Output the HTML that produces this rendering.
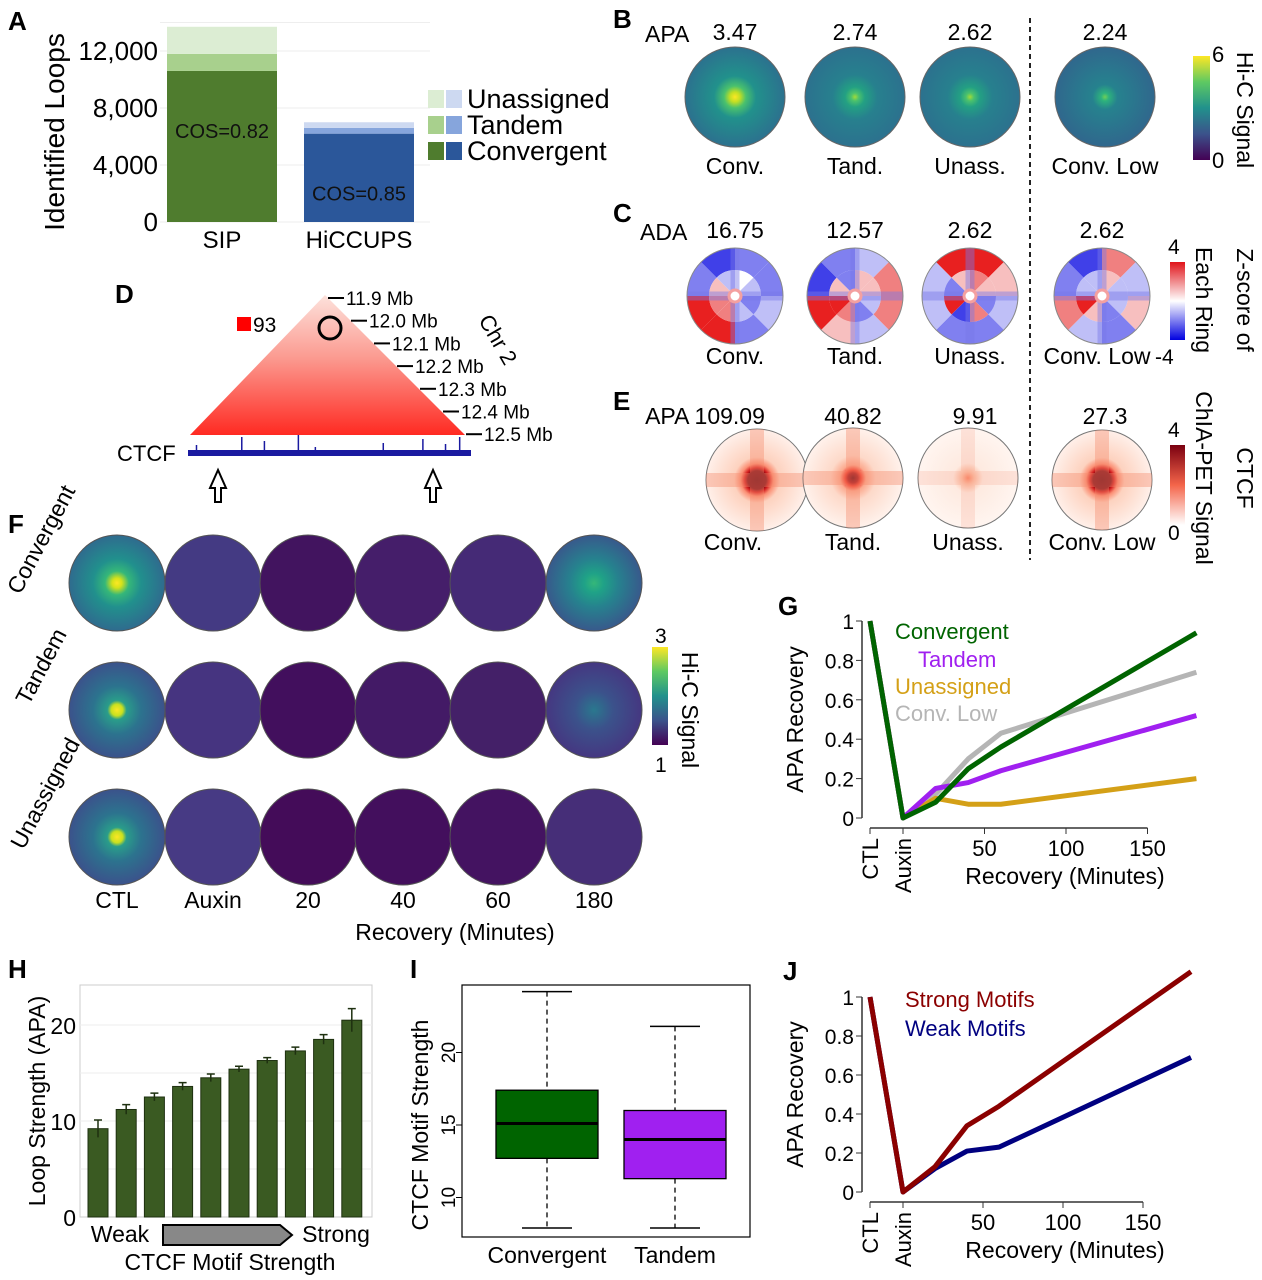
<!DOCTYPE html>
<html><head><meta charset="utf-8">
<style>
html,body{margin:0;padding:0;background:#fff;}
svg{display:block;font-family:"Liberation Sans",Arial,sans-serif;}
</style></head>
<body>
<svg id="fig" width="1262" height="1280" viewBox="0 0 1262 1280" xmlns="http://www.w3.org/2000/svg">
<defs>
 <radialGradient id="vConv"><stop offset="0" stop-color="#fde725"/><stop offset="0.1" stop-color="#c2df23"/><stop offset="0.22" stop-color="#4ac16d"/><stop offset="0.42" stop-color="#21918c"/><stop offset="1" stop-color="#2c718e"/></radialGradient>
 <radialGradient id="vTand"><stop offset="0" stop-color="#a0da39"/><stop offset="0.08" stop-color="#4ac16d"/><stop offset="0.2" stop-color="#23a083"/><stop offset="0.45" stop-color="#27808e"/><stop offset="1" stop-color="#2c718e"/></radialGradient>
 <radialGradient id="vLow"><stop offset="0" stop-color="#6ece58"/><stop offset="0.08" stop-color="#2db27d"/><stop offset="0.25" stop-color="#26828e"/><stop offset="1" stop-color="#30678d"/></radialGradient>
 <radialGradient id="fConv"><stop offset="0" stop-color="#fde725"/><stop offset="0.1" stop-color="#d5e21a"/><stop offset="0.25" stop-color="#35b779"/><stop offset="0.5" stop-color="#21908d"/><stop offset="1" stop-color="#2f6b8e"/></radialGradient>
 <radialGradient id="fTand"><stop offset="0" stop-color="#fde725"/><stop offset="0.12" stop-color="#c8e020"/><stop offset="0.2" stop-color="#2a9d8a"/><stop offset="0.5" stop-color="#2c738e"/><stop offset="1" stop-color="#3b528b"/></radialGradient>
 <radialGradient id="f180c"><stop offset="0" stop-color="#35b779"/><stop offset="0.2" stop-color="#1fa287"/><stop offset="0.5" stop-color="#26828e"/><stop offset="1" stop-color="#38598c"/></radialGradient>
 <radialGradient id="f180t"><stop offset="0" stop-color="#2a788e"/><stop offset="0.4" stop-color="#3b528b"/><stop offset="1" stop-color="#453781"/></radialGradient>
 <radialGradient id="cStrong"><stop offset="0" stop-color="#67000d"/><stop offset="0.18" stop-color="#7a0510"/><stop offset="0.24" stop-color="#d42020"/><stop offset="0.32" stop-color="#fb8f74"/><stop offset="0.45" stop-color="#fdd2bf"/><stop offset="1" stop-color="#fff0ea"/></radialGradient>
 <radialGradient id="cMid"><stop offset="0" stop-color="#67000d"/><stop offset="0.1" stop-color="#a50f15"/><stop offset="0.16" stop-color="#ef3b2c"/><stop offset="0.26" stop-color="#fcaa8f"/><stop offset="0.45" stop-color="#fdd9c9"/><stop offset="1" stop-color="#fff2ec"/></radialGradient>
 <radialGradient id="cWeak"><stop offset="0" stop-color="#fb8b6c"/><stop offset="0.12" stop-color="#fcbba1"/><stop offset="0.3" stop-color="#feeae0"/><stop offset="1" stop-color="#fff5f0"/></radialGradient>
 <linearGradient id="barViridis" x1="0" y1="1" x2="0" y2="0"><stop offset="0" stop-color="#440154"/><stop offset="0.25" stop-color="#3b528b"/><stop offset="0.5" stop-color="#21918c"/><stop offset="0.75" stop-color="#5ec962"/><stop offset="1" stop-color="#fde725"/></linearGradient>
 <linearGradient id="barRB" x1="0" y1="1" x2="0" y2="0"><stop offset="0" stop-color="#0000e0"/><stop offset="0.5" stop-color="#ffffff"/><stop offset="1" stop-color="#e0141a"/></linearGradient>
 <linearGradient id="barReds" x1="0" y1="1" x2="0" y2="0"><stop offset="0" stop-color="#ffffff"/><stop offset="0.5" stop-color="#f4654a"/><stop offset="1" stop-color="#7a0010"/></linearGradient>
 <linearGradient id="triGrad" x1="0" y1="0" x2="0" y2="1"><stop offset="0" stop-color="#fde2dc"/><stop offset="0.45" stop-color="#fb9a90"/><stop offset="1" stop-color="#ff2a22"/></linearGradient>
</defs>

<g font-weight="bold" font-size="26">
 <text x="8" y="30">A</text>
 <text x="613" y="28">B</text>
 <text x="613" y="222">C</text>
 <text x="115" y="303">D</text>
 <text x="613" y="410">E</text>
 <text x="8" y="533">F</text>
 <text x="778" y="615">G</text>
 <text x="8" y="978">H</text>
 <text x="410" y="978">I</text>
 <text x="783" y="980">J</text>
</g>

<g id="panelA"></g>
<g id="panelB"></g>
<g id="panelC"></g>
<g id="panelD"></g>
<g id="panelE"></g>
<g id="panelF"></g>
<g id="panelG"></g>
<g id="panelH"></g>
<g id="panelI"></g>
<g id="panelJ"></g>

<line x1="1030" y1="18" x2="1030" y2="560" stroke="#222" stroke-width="2" stroke-dasharray="5,4"/>
</svg>

<script>
// ---------- DATA ----------
const aCategories = ["SIP", "HiCCUPS"];
const aConvergent = [10600, 6200];
const aTandem = [1200, 400];
const aUnassigned = [1900, 400];
const aTicks = [0, 4000, 8000, 12000];
const aTickLabels = ["0", "4,000", "8,000", "12,000"];
const aCos = ["COS=0.82", "COS=0.85"];
const bLabels = ["Conv.", "Tand.", "Unass.", "Conv. Low"];
const bValues = ["3.47", "2.74", "2.62", "2.24"];
const cValues = ["16.75", "12.57", "2.62", "2.62"];
const cOuter = [[-1,-2,3,3,-2,-3,-2,-2],[2,-1,1,3,-3,-2,-1,2],[-1,-2,-2,-1,-1,3,3,1],[1,-2,-1,2,-2,-3,2,-1]];
const cInner = [[-2,-1,2,2,1,-1,0,-1],[-1,-2,2,3,1,-2,1,1],[-2,2,-3,3,-2,1,2,1],[-1,-2,1,3,-1,-1,1,-1]];
const dTickLabels = ["11.9 Mb","12.0 Mb","12.1 Mb","12.2 Mb","12.3 Mb","12.4 Mb","12.5 Mb"];
const dPeakPos = [0.03, 0.19, 0.27, 0.39, 0.45, 0.69, 0.83, 0.91, 0.96];
const dPeakHeight = [8, 16, 12, 18, 6, 10, 14, 9, 16];
const eValues = ["APA 109.09", "40.82", "9.91", "27.3"];
const fRows = ["Convergent", "Tandem", "Unassigned"];
const fCols = ["CTL", "Auxin", "20", "40", "60", "180"];
const gCats = ["CTL", "Auxin", 20, 40, 60, 180];
const gConvergent = [1, 0, 0.08, 0.25, 0.36, 0.94];
const gTandem = [1, 0, 0.15, 0.18, 0.24, 0.52];
const gUnassigned = [1, 0, 0.10, 0.07, 0.07, 0.20];
const gConvLow = [1, 0, 0.12, 0.30, 0.43, 0.74];
const gYTicks = [0, 0.2, 0.4, 0.6, 0.8, 1];
const gYTickLabels = ["0", "0.2", "0.4", "0.6", "0.8", "1"];
const gXTicks = [50, 100, 150];
const hValues = [9.2, 11.2, 12.5, 13.6, 14.5, 15.4, 16.3, 17.3, 18.5, 20.5];
const hErrors = [0.9, 0.5, 0.4, 0.4, 0.4, 0.3, 0.3, 0.4, 0.5, 1.2];
const hTicks = [0, 10, 20];
const iCats = ["Convergent", "Tandem"];
const iMin = [7.9, 7.9];
const iQ1 = [12.7, 11.3];
const iMedian = [15.1, 14.0];
const iQ3 = [17.4, 16.0];
const iMax = [24.2, 21.8];
const iTicks = [10, 15, 20];
const jCats = ["CTL", "Auxin", 20, 40, 60, 180];
const jStrong = [1, 0, 0.13, 0.34, 0.44, 1.13];
const jWeak = [1, 0, 0.12, 0.21, 0.23, 0.69];
const jYTicks = [0, 0.2, 0.4, 0.6, 0.8, 1];
const jYTickLabels = ["0", "0.2", "0.4", "0.6", "0.8", "1"];
const jXTicks = [50, 100, 150];

// ---------- HELPERS ----------
const NS = "http://www.w3.org/2000/svg";
function mk(parent, tag, attrs, txt) {
  const el = document.createElementNS(NS, tag);
  for (const k in attrs) el.setAttribute(k, attrs[k]);
  if (txt !== undefined) el.textContent = txt;
  parent.appendChild(el);
  return el;
}
function $(id){return document.getElementById(id);}
function rbColor(v){
  const t = Math.max(-1, Math.min(1, v/4));
  let r,g,b;
  if (t>=0){ r=255-Math.round(t*30); g=Math.round(255*(1-t)); b=Math.round(255*(1-t)); if(t>0.6){g=Math.round(255*(1-t)*0.5);b=g;} }
  else { const s=-t; r=Math.round(255*(1-s)); g=Math.round(255*(1-s)); b=255-Math.round(s*30); }
  return `rgb(${r},${g},${b})`;
}

// ---------- PANEL A ----------
(function(){
  const g = $("panelA");
  const y0 = 222, k = 57/4000;
  const ya = v => y0 - v*k;
  const xc = [222, 359], bw = 110;
  aTicks.forEach((t,i)=>{
    const l = mk(g,"line",{x1:160,x2:430,y1:ya(t),y2:ya(t),stroke:"#eee","stroke-width":1});
    
    
    const tx = mk(g,"text",{x:158,y:ya(t)+9,"text-anchor":"end","font-size":26},aTickLabels[i]);
    
    
  });
  const gl = mk(g,"line",{x1:160,x2:430,y1:ya(14000),y2:ya(14000),stroke:"#eee"});
  
  
  const cols = [["#4f7c2e","#a8d08d","#dcedd3"],["#2b579a","#86a5dc","#cdd9f1"]];
  aCategories.forEach((c,i)=>{
    const x = xc[i]-bw/2;
    const c1 = aConvergent[i], c2 = c1+aTandem[i], c3 = c2+aUnassigned[i];
    const r1 = mk(g,"rect",{x:x,width:bw,y:ya(c1),height:ya(0)-ya(c1),fill:cols[i][0]});
    
    
    const r2 = mk(g,"rect",{x:x,width:bw,y:ya(c2),height:ya(c1)-ya(c2),fill:cols[i][1]});
    
    
    const r3 = mk(g,"rect",{x:x,width:bw,y:ya(c3),height:ya(c2)-ya(c3),fill:cols[i][2]});
    
    
    const lb = mk(g,"text",{x:xc[i],y:248,"text-anchor":"middle","font-size":24},c);
    
    
    const cs = mk(g,"text",{x:xc[i],y:ya(c1)+67,"text-anchor":"middle","font-size":20,fill:"#111"},aCos[i]);
    
    
  });
  const ax = mk(g,"text",{transform:"translate(64,132) rotate(-90)","text-anchor":"middle","font-size":28},"Identified Loops");
  
  
  const leg = [["Unassigned",2,108],["Tandem",1,134],["Convergent",0,160]];
  leg.forEach(L=>{
    const s1 = mk(g,"rect",{x:428,y:L[2]-18,width:16,height:18,fill:cols[0][L[1]]});
    
    
    const s2 = mk(g,"rect",{x:446,y:L[2]-18,width:16,height:18,fill:cols[1][L[1]]});
    
    
    const t = mk(g,"text",{x:467,y:L[2],"font-size":27},L[0]);
    
    
  });
})();

// ---------- PANEL B ----------
(function(){
  const g = $("panelB");
  const cx=[735,855,970,1105], fills=["url(#vConv)","url(#vTand)","url(#vTand)","url(#vLow)"];
  const t0 = mk(g,"text",{x:645,y:42,"font-size":23},"APA");
  
  
  bLabels.forEach((l,i)=>{
    const c = mk(g,"circle",{cx:cx[i],cy:97,r:50,fill:fills[i],stroke:"#666","stroke-width":1});
    
    
    const v = mk(g,"text",{x:cx[i],y:40,"text-anchor":"middle","font-size":23},bValues[i]);
    
    
    const t = mk(g,"text",{x:cx[i],y:174,"text-anchor":"middle","font-size":23},l);
    
    
  });
  const bar = mk(g,"rect",{x:1193,y:56,width:17,height:104,fill:"url(#barViridis)"});
  
  
  const a = mk(g,"text",{x:1212,y:62,"font-size":22},"6");
  
  
  const b = mk(g,"text",{x:1212,y:168,"font-size":22},"0");
  
  
  const t = mk(g,"text",{transform:"translate(1237,110) rotate(90)","text-anchor":"middle","font-size":23},"Hi-C Signal");
  
  
})();

// ---------- PANEL C ----------
(function(){
  const g = $("panelC");
  const cx=[735,855,970,1102], cy=296;
  const lbl = mk(g,"text",{x:640,y:240,"font-size":23},"ADA");
  
  
  function wedge(x,y,r0,r1,a0,a1){
    const p=(r,a)=>[x+r*Math.cos(a*Math.PI/180), y+r*Math.sin(a*Math.PI/180)];
    const A=p(r1,a0),B=p(r1,a1),C=p(r0,a1),D=p(r0,a0);
    return `M${A[0]},${A[1]} A${r1},${r1} 0 0 1 ${B[0]},${B[1]} L${C[0]},${C[1]} A${r0},${r0} 0 0 0 ${D[0]},${D[1]} Z`;
  }
  bLabels.forEach((l,i)=>{
    for(let s=0;s<8;s++){
      const w1 = mk(g,"path",{d:wedge(cx[i],cy,26,48,s*45,(s+1)*45),fill:rbColor(cOuter[i][s])});
      
      
      const w2 = mk(g,"path",{d:wedge(cx[i],cy,6,26,s*45,(s+1)*45),fill:rbColor(cInner[i][s])});
      
      
    }
    const cr = mk(g,"path",{d:`M${cx[i]-48},${cy}h96M${cx[i]},${cy-48}v96`,stroke:"rgba(120,120,230,0.45)","stroke-width":9,fill:"none"});
    
    
    const ctr = mk(g,"circle",{cx:cx[i],cy:cy,r:6,fill:"#fff",stroke:"#f4a0a0","stroke-width":3});
    
    
    const o = mk(g,"circle",{cx:cx[i],cy:cy,r:48,fill:"none",stroke:"#888"});
    
    
    const v = mk(g,"text",{x:cx[i],y:238,"text-anchor":"middle","font-size":23},cValues[i]);
    
    
    const t = mk(g,"text",{x:cx[i]+(i==3?-5:0),y:364,"text-anchor":"middle","font-size":23},l);
    
    
  });
  const bar = mk(g,"rect",{x:1170,y:262,width:15,height:78,fill:"url(#barRB)"});
  
  
  const a = mk(g,"text",{x:1168,y:254,"font-size":21},"4");
  
  
  const b = mk(g,"text",{x:1155,y:364,"font-size":21},"-4");
  
  
  const t1 = mk(g,"text",{transform:"translate(1196,300) rotate(90)","text-anchor":"middle","font-size":23},"Each Ring");
  
  
  const t2 = mk(g,"text",{transform:"translate(1237,300) rotate(90)","text-anchor":"middle","font-size":23},"Z-score of");
  
  
})();

// ---------- PANEL D ----------
(function(){
  const g = $("panelD");
  const tri = mk(g,"polygon",{points:"325,295 190,435 465,435",fill:"url(#triGrad)"});
  
  
  const ci = mk(g,"circle",{cx:330,cy:328,r:11,fill:"none",stroke:"#000","stroke-width":3});
  
  
  const sq = mk(g,"rect",{x:237,y:317,width:14,height:14,fill:"#f00"});
  
  
  const lt = mk(g,"text",{x:253,y:332,"font-size":21},"93");
  
  
  dTickLabels.forEach((l,i)=>{
    const x = 328 + i*23, y = 298 + i*22.7;
    const tk = mk(g,"line",{x1:x,x2:x+16,y1:y,y2:y,stroke:"#000","stroke-width":2});
    
    
    const t = mk(g,"text",{x:x+18,y:y+7,"font-size":19},l);
    
    
  });
  const chr = mk(g,"text",{transform:"translate(478,320) rotate(60)","font-size":22},"Chr 2");
  
  
  const ct = mk(g,"text",{x:117,y:461,"font-size":22},"CTCF");
  
  
  const base = mk(g,"rect",{x:188,y:450,width:283,height:6,fill:"#1a1aa0"});
  
  
  dPeakPos.forEach((p,i)=>{
    const x = 188 + p*283;
    const pk = mk(g,"line",{x1:x,x2:x,y1:453-dPeakHeight[i],y2:453,stroke:"#1a1aa0","stroke-width":1.5});
    
    
  });
  [218,433].forEach(x=>{
    const a = mk(g,"path",{d:`M${x},470 L${x-8},488 L${x-3},488 L${x-3},502 L${x+3},502 L${x+3},488 L${x+8},488 Z`,fill:"#fff",stroke:"#000","stroke-width":2});
    
    
  });
})();

// ---------- PANEL E ----------
(function(){
  const g = $("panelE");
  const cx=[757,853,968,1102], cy=[480,478,478,480], r=[51,50,50,50];
  const fills=["url(#cStrong)","url(#cMid)","url(#cWeak)","url(#cStrong)"];
  const vx=[705,853,975,1105];
  bLabels.forEach((l,i)=>{
    const cp = mk(g,"clipPath",{id:"eclip"+i});
    mk(cp,"circle",{cx:cx[i],cy:cy[i],r:r[i]});
    const c = mk(g,"circle",{cx:cx[i],cy:cy[i],r:r[i],fill:fills[i],stroke:"#777"});
    
    
    const op = i==2?0.18:0.4;
    const cr = mk(g,"path",{d:`M${cx[i]-r[i]},${cy[i]}h${2*r[i]}M${cx[i]},${cy[i]-r[i]}v${2*r[i]}`,stroke:`rgba(245,140,110,${op})`,"stroke-width":14,fill:"none","clip-path":`url(#eclip${i})`});
    
    
    const v = mk(g,"text",{x:vx[i],y:424,"text-anchor":"middle","font-size":23},eValues[i]);
    
    
    const t = mk(g,"text",{x:cx[i]+(i==0?-24:0),y:550,"text-anchor":"middle","font-size":23},l);
    
    
  });
  const bar = mk(g,"rect",{x:1170,y:445,width:15,height:80,fill:"url(#barReds)"});
  
  
  const a = mk(g,"text",{x:1168,y:437,"font-size":21},"4");
  
  
  const b = mk(g,"text",{x:1168,y:540,"font-size":21},"0");
  
  
  const t1 = mk(g,"text",{transform:"translate(1196,478) rotate(90)","text-anchor":"middle","font-size":23},"ChIA-PET Signal");
  
  
  const t2 = mk(g,"text",{transform:"translate(1237,478) rotate(90)","text-anchor":"middle","font-size":23},"CTCF");
  
  
})();

// ---------- PANEL F ----------
(function(){
  const g = $("panelF");
  const xs=[117,213,308,403,498,594], ys=[583,710,837];
  const fills=[
    ["url(#fConv)","#443a83","#42145f","#451e6a","#452a76","url(#f180c)"],
    ["url(#fTand)","#463480","#420f5d","#431a66","#442068","url(#f180t)"],
    ["url(#fTand)","#473a84","#440c59","#430f5d","#441361","#462e78"]];
  fRows.forEach((row,ri)=>{
    const rl = mk(g,"text",{transform:`translate(${ri==2?52:48},${ys[ri]-40}) rotate(-62)`,"text-anchor":"middle","font-size":23},row);
    
    
    fCols.forEach((col,ci)=>{
      const c = mk(g,"circle",{cx:xs[ci],cy:ys[ri],r:48,fill:fills[ri][ci],stroke:"#555","stroke-width":1});
      
      
    });
  });
  fCols.forEach((col,ci)=>{
    const t = mk(g,"text",{x:xs[ci],y:908,"text-anchor":"middle","font-size":23},col);
    
    
  });
  const xt = mk(g,"text",{x:455,y:940,"text-anchor":"middle","font-size":23},"Recovery (Minutes)");
  
  
  const bar = mk(g,"rect",{x:652,y:647,width:16,height:98,fill:"url(#barViridis)"});
  
  
  const m1 = mk(g,"text",{x:655,y:643,"font-size":21},"3");
  
  
  const m0 = mk(g,"text",{x:655,y:772,"font-size":21},"1");
  
  
  const t = mk(g,"text",{transform:"translate(682,710) rotate(90)","text-anchor":"middle","font-size":23},"Hi-C Signal");
  
  
})();

// ---------- line chart helper (G, J) ----------
function recoveryChart(g, cats, series, colors, names, legendPos, yTicks, yTickLabels, xTicks, y0, ky, kx, prefix){
  const xp = c => c==="CTL" ? 870 : (c==="Auxin" ? 903 : 903 + c*kx);
  const yp = v => y0 - v*ky;
  const ya = mk(g,"line",{x1:862,x2:862,y1:yp(1),y2:yp(0),stroke:"#333","stroke-width":1.5});
  
  
  yTicks.forEach((t,i)=>{
    const tk = mk(g,"line",{x1:856,x2:862,y1:yp(t),y2:yp(t),stroke:"#333"});
    
    
    const tx = mk(g,"text",{x:854,y:yp(t)+8,"text-anchor":"end","font-size":21},yTickLabels[i]);
    
    
  });
  const xa = mk(g,"line",{x1:870,x2:xp(xTicks[xTicks.length-1]),y1:y0+10,y2:y0+10,stroke:"#333","stroke-width":1.5});
  
  
  ["CTL","Auxin"].concat(xTicks).forEach(t=>{
    const tk = mk(g,"line",{x1:xp(t),x2:xp(t),y1:y0+10,y2:y0+16,stroke:"#333"});
    
    
  });
  ["CTL","Auxin"].forEach(t=>{
    const tx = mk(g,"text",{transform:`translate(${xp(t)+8},${y0+20}) rotate(-90)`,"text-anchor":"end","font-size":22},t);
    
    
  });
  xTicks.forEach(t=>{
    const tx = mk(g,"text",{x:xp(t),y:y0+38,"text-anchor":"middle","font-size":22},String(t));
    
    
  });
  const xt = mk(g,"text",{x:1065,y:y0+66,"text-anchor":"middle","font-size":23},"Recovery (Minutes)");
  
  
  const yt = mk(g,"text",{transform:`translate(803,${yp(0.5)}) rotate(-90)`,"text-anchor":"middle","font-size":23},"APA Recovery");
  
  
  series.forEach((s,si)=>{
    const pts = s.map((v,i)=>xp(cats[i])+","+yp(v)).join(" ");
    const pl = mk(g,"polyline",{points:pts,fill:"none",stroke:colors[si],"stroke-width":5,"stroke-linejoin":"round"});
    
    
    const lg = mk(g,"text",{x:legendPos[si][0],y:legendPos[si][1],"font-size":22,fill:colors[si]},names[si]);
    
    
  });
}
recoveryChart($("panelG"), gCats, [gConvLow,gUnassigned,gTandem,gConvergent],
  ["#b5b5b5","#d4a017","#a020f0","#006400"], ["Conv. Low","Unassigned","Tandem","Convergent"],
  [[895,721],[895,694],[918,667],[895,639]], gYTicks, gYTickLabels, gXTicks, 818, 197, 1.63, "g");
recoveryChart($("panelJ"), jCats, [jWeak,jStrong], ["#000080","#8b0000"], ["Weak Motifs","Strong Motifs"],
  [[905,1036],[905,1007]], jYTicks, jYTickLabels, jXTicks, 1192, 195, 1.6, "j");

// ---------- PANEL H ----------
(function(){
  const g = $("panelH");
  const yh = v => 1217 - v*9.6;
  const fr = mk(g,"rect",{x:80,y:985,width:292,height:232,fill:"none",stroke:"#ccc"});
  
  
  [5,10,15,20].forEach(t=>{
    const l = mk(g,"line",{x1:80,x2:372,y1:yh(t),y2:yh(t),stroke:"#eee"});
    
    
  });
  hTicks.forEach(t=>{
    const tx = mk(g,"text",{x:76,y:yh(t)+9,"text-anchor":"end","font-size":23},String(t));
    
    
  });
  hValues.forEach((v,i)=>{
    const x = 98 + i*28.2;
    const b = mk(g,"rect",{x:x-10,y:yh(v),width:20,height:yh(0)-yh(v),fill:"#3a5a22",stroke:"#1e3010"});
    
    
    const e = mk(g,"path",{d:`M${x},${yh(v-hErrors[i])}V${yh(v+hErrors[i])}M${x-4},${yh(v+hErrors[i])}h8`,stroke:"#1e3010","stroke-width":1.5,fill:"none"});
    
    
  });
  const yt = mk(g,"text",{transform:"translate(45,1101) rotate(-90)","text-anchor":"middle","font-size":23},"Loop Strength (APA)");
  
  
  const w = mk(g,"text",{x:120,y:1242,"text-anchor":"middle","font-size":23},"Weak");
  
  
  const s = mk(g,"text",{x:336,y:1242,"text-anchor":"middle","font-size":23},"Strong");
  
  
  const ar = mk(g,"polygon",{points:"163,1225 280,1225 292,1235 280,1245 163,1245",fill:"#888",stroke:"#000","stroke-width":2});
  
  
  const xt = mk(g,"text",{x:230,y:1270,"text-anchor":"middle","font-size":23},"CTCF Motif Strength");
  
  
})();

// ---------- PANEL I ----------
(function(){
  const g = $("panelI");
  const yi = v => 1125 - (v-15)*14.5;
  const fr = mk(g,"rect",{x:462,y:985,width:288,height:252,fill:"none",stroke:"#000","stroke-width":1.2});
  
  
  iTicks.forEach(t=>{
    const tk = mk(g,"line",{x1:456,x2:462,y1:yi(t),y2:yi(t),stroke:"#000"});
    
    
    const tx = mk(g,"text",{transform:`translate(455,${yi(t)}) rotate(-90)`,"text-anchor":"middle","font-size":19},String(t));
    
    
  });
  const xc=[547,675], cols=["#006400","#a020f0"];
  iCats.forEach((c,i)=>{
    const wh = mk(g,"path",{d:`M${xc[i]},${yi(iMax[i])}V${yi(iQ3[i])}M${xc[i]},${yi(iQ1[i])}V${yi(iMin[i])}`,stroke:"#000","stroke-dasharray":"5,4","stroke-width":1.3});
    
    
    const cap = mk(g,"path",{d:`M${xc[i]-25},${yi(iMax[i])}h50M${xc[i]-25},${yi(iMin[i])}h50`,stroke:"#000","stroke-width":1.5});
    
    
    const bx = mk(g,"rect",{x:xc[i]-51,y:yi(iQ3[i]),width:102,height:yi(iQ1[i])-yi(iQ3[i]),fill:cols[i],stroke:"#000","stroke-width":1.3});
    
    
    const md = mk(g,"line",{x1:xc[i]-51,x2:xc[i]+51,y1:yi(iMedian[i]),y2:yi(iMedian[i]),stroke:"#000","stroke-width":3});
    
    
    const tx = mk(g,"text",{x:xc[i],y:1263,"text-anchor":"middle","font-size":23},c);
    
    
  });
  const yt = mk(g,"text",{transform:"translate(428,1125) rotate(-90)","text-anchor":"middle","font-size":23},"CTCF Motif Strength");
  
  
})();
</script>
</body></html>
